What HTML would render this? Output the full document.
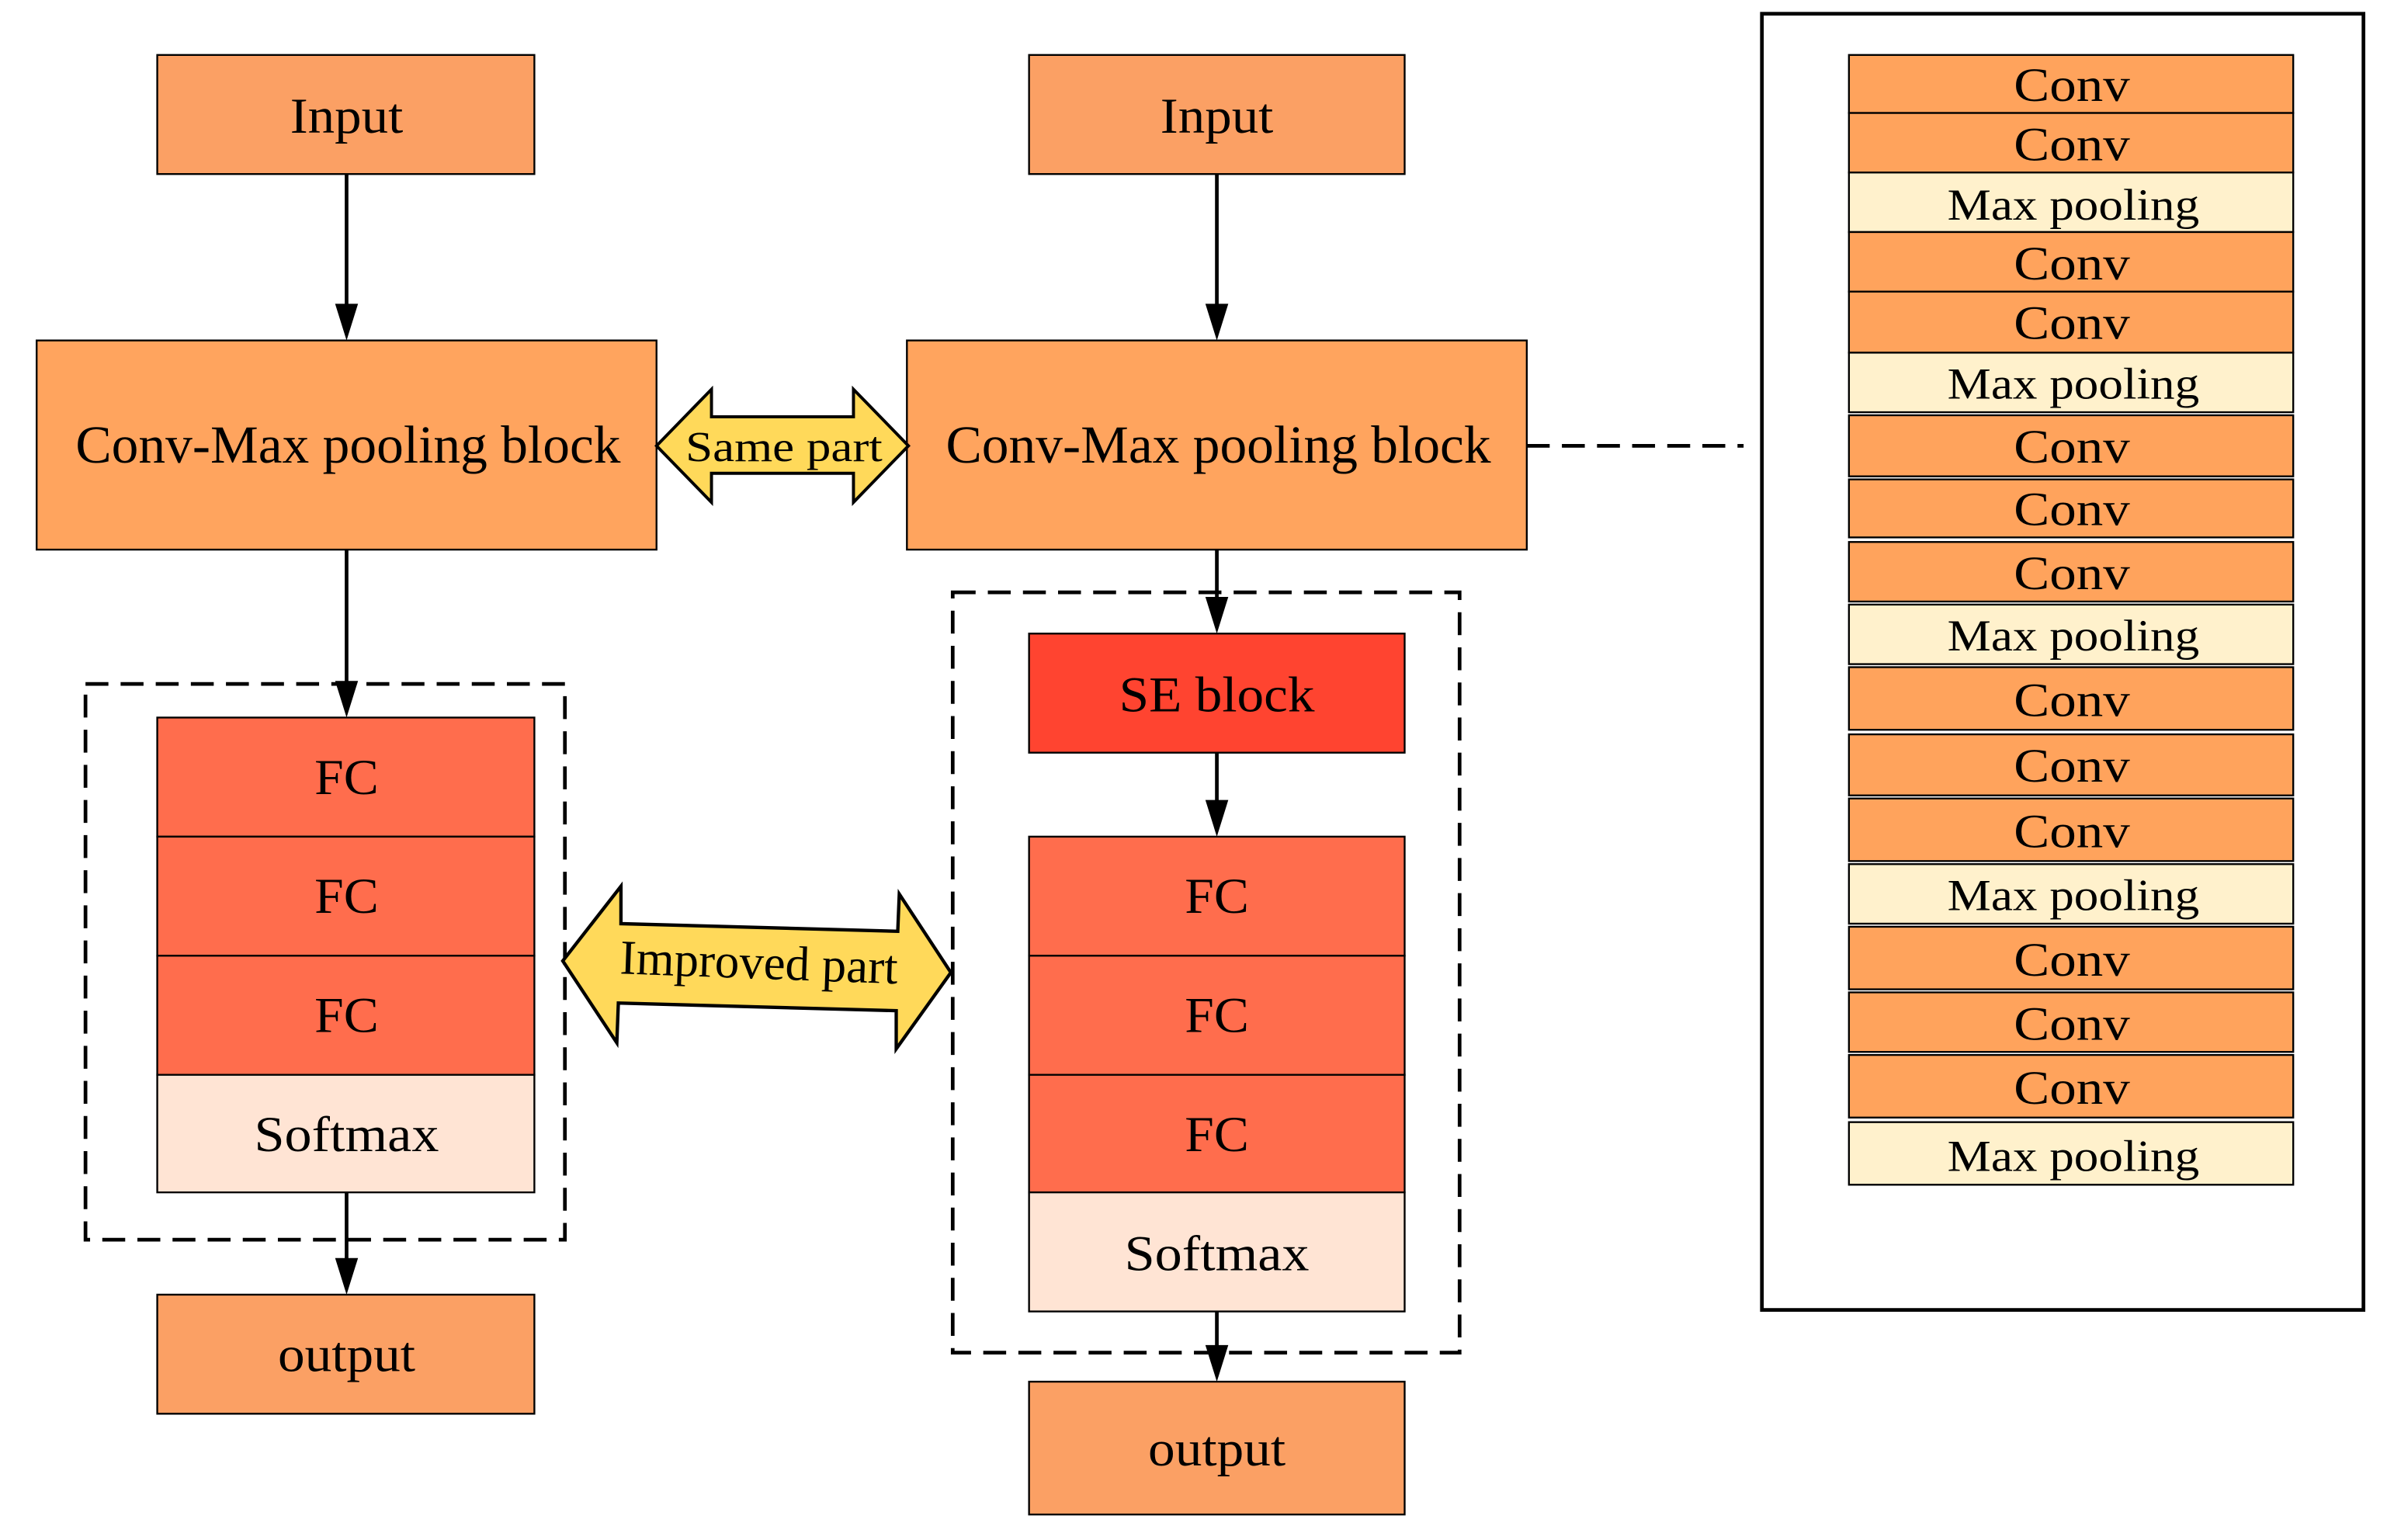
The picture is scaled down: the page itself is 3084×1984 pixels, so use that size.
<!DOCTYPE html>
<html><head><meta charset="utf-8"><style>html,body{margin:0;padding:0;background:#fff}svg{display:block}</style></head>
<body>
<svg width="3084" height="1984" viewBox="0 0 1568 1008.7" preserveAspectRatio="none" xmlns="http://www.w3.org/2000/svg" font-family="Liberation Serif, serif">
<g stroke="#000" stroke-width="1.2">
<rect x="103" y="36" width="247" height="78" fill="#FBA064"/>
<rect x="674" y="36" width="246" height="78" fill="#FBA064"/>
<rect x="24" y="223" width="406" height="137" fill="#FFA45E"/>
<rect x="594" y="223" width="406" height="137" fill="#FFA45E"/>
<rect x="103" y="470" width="247" height="78" fill="#FF6D4D"/>
<rect x="103" y="548" width="247" height="78" fill="#FF6D4D"/>
<rect x="103" y="626" width="247" height="78" fill="#FF6D4D"/>
<rect x="103" y="704" width="247" height="77" fill="#FFE4D4"/>
<rect x="103" y="848" width="247" height="78" fill="#FBA064"/>
<rect x="674" y="415" width="246" height="78" fill="#FF4430"/>
<rect x="674" y="548" width="246" height="78" fill="#FF6D4D"/>
<rect x="674" y="626" width="246" height="78" fill="#FF6D4D"/>
<rect x="674" y="704" width="246" height="77" fill="#FF6D4D"/>
<rect x="674" y="781" width="246" height="78" fill="#FFE4D4"/>
<rect x="674" y="905" width="246" height="87" fill="#FBA064"/>
</g>
<g stroke="#000" stroke-width="2.4" fill="#000">
<line x1="227" y1="114" x2="227" y2="205"/><polygon points="219.5,199 234.5,199 227,223" stroke="none"/>
<line x1="797" y1="114" x2="797" y2="205"/><polygon points="789.5,199 804.5,199 797,223" stroke="none"/>
<line x1="227" y1="360" x2="227" y2="452"/><polygon points="219.5,446 234.5,446 227,470" stroke="none"/>
<line x1="797" y1="360" x2="797" y2="397"/><polygon points="789.5,391 804.5,391 797,415" stroke="none"/>
<line x1="797" y1="493" x2="797" y2="530"/><polygon points="789.5,524 804.5,524 797,548" stroke="none"/>
<line x1="227" y1="781" x2="227" y2="830"/><polygon points="219.5,824 234.5,824 227,848" stroke="none"/>
<line x1="797" y1="859" x2="797" y2="887"/><polygon points="789.5,881 804.5,881 797,905" stroke="none"/>
</g>
<g stroke="#000" stroke-width="2.4" fill="none" stroke-dasharray="15,8">
<rect x="56" y="448" width="314" height="364"/>
<rect x="624" y="388" width="332" height="498"/>
<line x1="1000" y1="292" x2="1142" y2="292"/>
</g>
<polygon points="430,292 466,255 466,273 559,273 559,255 595,292 559,329 559,310 466,310 466,329" fill="#FFD95A" stroke="#000" stroke-width="2"/>
<text x="449" y="302" font-size="28" textLength="129" lengthAdjust="spacingAndGlyphs">Same part</text>
<polygon points="368.6,629.4 406.7,580.5 406.7,605 588,610 589,585.6 622.8,637 587,687 587,662 405,657 404,683" fill="#FFD95A" stroke="#000" stroke-width="2.2"/>
<text x="406" y="641" font-size="32" textLength="182" lengthAdjust="spacingAndGlyphs" transform="rotate(2.1 497 634)">Improved part</text>
<g font-size="33" text-anchor="middle">
<text x="227" y="87" textLength="74" lengthAdjust="spacingAndGlyphs">Input</text>
<text x="797" y="87" textLength="74" lengthAdjust="spacingAndGlyphs">Input</text>
<text x="228" y="303" font-size="35" textLength="357" lengthAdjust="spacingAndGlyphs">Conv-Max pooling block</text>
<text x="798" y="303" font-size="35" textLength="357" lengthAdjust="spacingAndGlyphs">Conv-Max pooling block</text>
<text x="227" y="520" textLength="42" lengthAdjust="spacingAndGlyphs">FC</text>
<text x="227" y="598" textLength="42" lengthAdjust="spacingAndGlyphs">FC</text>
<text x="227" y="676" textLength="42" lengthAdjust="spacingAndGlyphs">FC</text>
<text x="227" y="754" textLength="121" lengthAdjust="spacingAndGlyphs">Softmax</text>
<text x="227" y="898" textLength="90" lengthAdjust="spacingAndGlyphs">output</text>
<text x="797" y="466" textLength="128" lengthAdjust="spacingAndGlyphs">SE block</text>
<text x="797" y="598" textLength="42" lengthAdjust="spacingAndGlyphs">FC</text>
<text x="797" y="676" textLength="42" lengthAdjust="spacingAndGlyphs">FC</text>
<text x="797" y="754" textLength="42" lengthAdjust="spacingAndGlyphs">FC</text>
<text x="797" y="832" textLength="121" lengthAdjust="spacingAndGlyphs">Softmax</text>
<text x="797" y="960" textLength="90" lengthAdjust="spacingAndGlyphs">output</text>
</g>
<rect x="1154" y="9" width="394" height="849" fill="none" stroke="#000" stroke-width="2.4"/>
<g stroke="#000" stroke-width="1.2">
<rect x="1211" y="36" width="291" height="38" fill="#FFA35C"/>
<rect x="1211" y="74" width="291" height="39" fill="#FFA35C"/>
<rect x="1211" y="113" width="291" height="39" fill="#FFF1CC"/>
<rect x="1211" y="152" width="291" height="39" fill="#FFA35C"/>
<rect x="1211" y="191" width="291" height="40" fill="#FFA35C"/>
<rect x="1211" y="231" width="291" height="39" fill="#FFF1CC"/>
<rect x="1211" y="272" width="291" height="40" fill="#FFA35C"/>
<rect x="1211" y="314" width="291" height="38" fill="#FFA35C"/>
<rect x="1211" y="355" width="291" height="39" fill="#FFA35C"/>
<rect x="1211" y="396" width="291" height="39" fill="#FFF1CC"/>
<rect x="1211" y="437" width="291" height="41" fill="#FFA35C"/>
<rect x="1211" y="481" width="291" height="40" fill="#FFA35C"/>
<rect x="1211" y="523" width="291" height="41" fill="#FFA35C"/>
<rect x="1211" y="566" width="291" height="39" fill="#FFF1CC"/>
<rect x="1211" y="607" width="291" height="41" fill="#FFA35C"/>
<rect x="1211" y="650" width="291" height="39" fill="#FFA35C"/>
<rect x="1211" y="691" width="291" height="41" fill="#FFA35C"/>
<rect x="1211" y="735" width="291" height="41" fill="#FFF1CC"/>
</g>
<g font-size="31" text-anchor="middle">
<text x="1357" y="66" textLength="76" lengthAdjust="spacingAndGlyphs">Conv</text>
<text x="1357" y="105" textLength="76" lengthAdjust="spacingAndGlyphs">Conv</text>
<text x="1358" y="144" font-size="29" textLength="165" lengthAdjust="spacingAndGlyphs">Max pooling</text>
<text x="1357" y="183" textLength="76" lengthAdjust="spacingAndGlyphs">Conv</text>
<text x="1357" y="222" textLength="76" lengthAdjust="spacingAndGlyphs">Conv</text>
<text x="1358" y="261" font-size="29" textLength="165" lengthAdjust="spacingAndGlyphs">Max pooling</text>
<text x="1357" y="303" textLength="76" lengthAdjust="spacingAndGlyphs">Conv</text>
<text x="1357" y="344" textLength="76" lengthAdjust="spacingAndGlyphs">Conv</text>
<text x="1357" y="386" textLength="76" lengthAdjust="spacingAndGlyphs">Conv</text>
<text x="1358" y="426" font-size="29" textLength="165" lengthAdjust="spacingAndGlyphs">Max pooling</text>
<text x="1357" y="469" textLength="76" lengthAdjust="spacingAndGlyphs">Conv</text>
<text x="1357" y="512" textLength="76" lengthAdjust="spacingAndGlyphs">Conv</text>
<text x="1357" y="555" textLength="76" lengthAdjust="spacingAndGlyphs">Conv</text>
<text x="1358" y="596" font-size="29" textLength="165" lengthAdjust="spacingAndGlyphs">Max pooling</text>
<text x="1357" y="639" textLength="76" lengthAdjust="spacingAndGlyphs">Conv</text>
<text x="1357" y="681" textLength="76" lengthAdjust="spacingAndGlyphs">Conv</text>
<text x="1357" y="723" textLength="76" lengthAdjust="spacingAndGlyphs">Conv</text>
<text x="1358" y="767" font-size="29" textLength="165" lengthAdjust="spacingAndGlyphs">Max pooling</text>
</g>
</svg>
</body></html>
